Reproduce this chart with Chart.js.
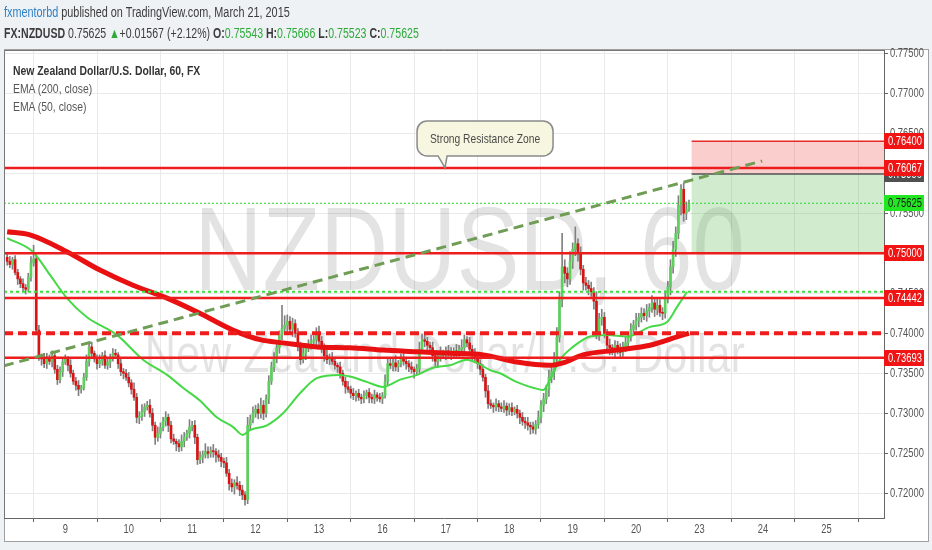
<!DOCTYPE html>
<html>
<head>
<meta charset="utf-8">
<script src="https://cdn.jsdelivr.net/npm/chart.js@4.4.0/dist/chart.umd.min.js"></script>
<style>
  html, body { margin: 0; padding: 0; background: #eff2f5; }
  #wrap { position: relative; width: 932px; height: 550px; overflow: hidden; font-family: "Liberation Sans", Arial, sans-serif; }
  #frame { position: absolute; left: 4px; top: 49px; width: 923px; height: 491px; background: #fff; border: 1px solid #a0a0a0; }
  #c { position: absolute; left: 0; top: 0; }
  .txt { position: absolute; white-space: nowrap; transform-origin: 0 50%; }
  .hd { left: 4px; font-size: 14px; color: #3c3c3c; }
  .g { color: #2eaa3a; }
  .lg { left: 13px; font-size: 13.5px; color: #555; transform: scaleX(0.77); }
</style>
</head>
<body>
<div id="wrap">
  <div id="frame"></div>
  <canvas id="c" width="932" height="550"></canvas>
  <div class="txt hd" style="top:4px;transform:scaleX(0.775)"><span style="color:#2f80c4">fxmentorbd</span> published on TradingView.com, March 21, 2015</div>
  <div class="txt hd" style="top:25px;transform:scaleX(0.755)"><b>FX:NZDUSD</b> 0.75625 <span class="g">&#9650;</span>+0.01567 (+2.12%) <b>O:</b><span class="g">0.75543</span> <b>H:</b><span class="g">0.75666</span> <b>L:</b><span class="g">0.75523</span> <b>C:</b><span class="g">0.75625</span></div>
  <div class="txt lg" style="top:63px;font-weight:bold;color:#333">New Zealand Dollar/U.S. Dollar, 60, FX</div>
  <div class="txt lg" style="top:81px">EMA (200, close)</div>
  <div class="txt lg" style="top:99px">EMA (50, close)</div>
</div>
<script>
// hourly closes, bar index 2..260 (day 9 starts at index 24)
const firstBar = 2;
const firstOpen = 0.7495;
const closes = [
  0.7490,0.7486,0.7492,0.7476,0.7468,0.7462,0.7457,0.7455,0.7470,0.7488,
  0.7493,0.7404,0.7370,0.7368,0.7362,0.7370,0.7365,0.7372,0.7355,0.7342,
  0.7352,0.7364,0.7368,0.7360,0.7350,0.7340,0.7335,0.7330,0.7332,0.7345,
  0.7365,0.7383,0.7375,0.7368,0.7362,0.7366,0.7372,0.7360,0.7364,0.7370,
  0.7375,0.7373,0.7362,0.7352,0.7350,0.7345,0.7338,0.7330,0.7320,0.7295,
  0.7296,0.7302,0.7308,0.7310,0.7300,0.7285,0.7270,0.7275,0.7282,0.7290,
  0.7295,0.7285,0.7268,0.7265,0.7262,0.7258,0.7265,0.7270,0.7275,0.7283,
  0.7285,0.7270,0.7242,0.7245,0.7248,0.7252,0.7250,0.7253,0.7252,0.7248,
  0.7245,0.7240,0.7238,0.7225,0.7212,0.7208,0.7213,0.7210,0.7204,0.7198,
  0.7192,0.7285,0.7292,0.7300,0.7305,0.7300,0.7310,0.7300,0.7318,0.7340,
  0.7358,0.7368,0.7382,0.7398,0.7406,0.7410,0.7415,0.7405,0.7412,0.7400,
  0.7385,0.7367,0.7375,0.7382,0.7386,0.7390,0.7392,0.7400,0.7390,0.7382,
  0.7372,0.7367,0.7370,0.7365,0.7360,0.7358,0.7350,0.7340,0.7333,0.7330,
  0.7325,0.7322,0.7325,0.7320,0.7318,0.7322,0.7326,0.7320,0.7318,0.7323,
  0.7320,0.7318,0.7322,0.7340,0.7362,0.7360,0.7363,0.7358,0.7362,0.7368,
  0.7365,0.7362,0.7358,0.7355,0.7352,0.7356,0.7380,0.7392,0.7390,0.7385,
  0.7382,0.7372,0.7365,0.7370,0.7375,0.7373,0.7378,0.7376,0.7374,0.7378,
  0.7376,0.7380,0.7382,0.7392,0.7388,0.7380,0.7375,0.7368,0.7362,0.7355,
  0.7345,0.7328,0.7312,0.7310,0.7308,0.7312,0.7308,0.7306,0.7309,0.7304,
  0.7307,0.7302,0.7305,0.7300,0.7295,0.7290,0.7288,0.7285,0.7283,0.7280,
  0.7286,0.7295,0.7310,0.7318,0.7330,0.7345,0.7352,0.7368,0.7395,0.7442,
  0.7483,0.7475,0.7468,0.7490,0.7505,0.7512,0.7500,0.7480,0.7463,0.7460,
  0.7456,0.7452,0.7440,0.7400,0.7418,0.7420,0.7400,0.7385,0.7382,0.7378,
  0.7385,0.7380,0.7376,0.7383,0.7388,0.7395,0.7405,0.7410,0.7416,0.7420,
  0.7425,0.7422,0.7428,0.7432,0.7438,0.7430,0.7435,0.7426,0.7425,0.7445,
  0.7458,0.7483,0.7505,0.7525,0.7560,0.7580,0.7550,0.75543,0.75625
];
// wick lengths in pips above / below the body
const wickUp = [
  4,6,3,5,4,3,6,4,5,8,17,5,6,4,7,5,3,6,4,5,
  6,4,5,3,7,4,5,6,3,5,8,4,6,3,5,7,4,6,5,4,
  6,5,3,7,4,5,6,4,8,5,6,9,4,5,7,6,4,8,6,5,
  7,4,5,6,3,5,8,6,4,9,5,6,4,7,5,10,6,5,8,4,
  6,5,4,7,5,6,4,8,5,6,4,10,6,8,5,7,9,6,5,7,
  6,8,7,5,29,12,8,6,7,5,6,4,7,5,6,8,5,7,9,6,
  5,7,4,6,5,3,6,4,5,7,4,6,3,5,4,6,3,5,4,6,
  3,5,4,8,6,7,5,9,4,6,8,5,4,6,3,5,9,7,6,5,
  4,7,5,6,8,4,5,7,6,4,8,5,10,6,4,7,5,6,4,5,
  6,4,7,5,3,6,4,5,7,4,5,6,3,5,4,6,5,7,4,6,
  5,8,6,7,5,9,6,8,12,10,42,9,7,12,8,21,6,8,5,7,
  6,8,5,12,7,10,6,5,8,4,6,5,7,6,8,5,7,6,9,5,
  7,6,8,5,9,6,10,7,6,8,7,9,10,8,12,6,8,10,4
];
const wickDn = [
  5,4,6,3,7,5,4,6,3,5,4,6,4,8,5,6,4,7,5,6,
  4,6,3,7,5,4,6,8,5,3,4,6,5,4,7,5,6,4,5,7,
  5,4,6,5,7,4,5,6,4,7,8,5,6,4,5,7,9,5,6,4,
  6,8,5,4,9,6,5,7,4,6,5,8,6,5,7,4,6,5,7,9,
  5,7,6,4,8,6,9,5,7,6,7,5,6,4,5,7,6,8,5,6,
  4,6,5,7,6,5,8,6,9,5,7,6,4,8,5,6,4,7,5,6,
  7,5,6,4,5,7,6,5,8,4,6,5,7,4,6,5,4,7,5,6,
  5,4,6,3,5,4,7,5,6,4,5,7,6,5,8,4,6,5,7,6,
  5,7,6,8,5,4,6,5,7,4,6,5,4,7,5,6,8,5,6,7,
  5,8,6,4,7,5,6,4,5,7,6,5,4,6,8,5,7,6,9,5,
  6,5,7,8,6,9,7,10,8,6,9,12,10,7,9,8,10,7,9,6,
  8,6,10,7,9,8,6,7,9,5,8,6,7,5,6,8,5,7,6,8,
  6,5,7,8,6,9,7,5,8,6,7,10,8,9,7,12,10,8,2
];

// EMA lines: [bar index, price]
const ema200 = [
  [2,0.7527],[10.6,0.7523],[24.6,0.7502],[37.1,0.7479],[49.6,0.7460],[62.5,0.7444],
  [74.9,0.7425],[87.4,0.7404],[97.7,0.7392],[106.4,0.7388],[119.2,0.7383],[131.7,0.7382],
  [144.2,0.7379],[157.1,0.7377],[169.6,0.7375],[182.1,0.7373],[194.9,0.7364],[207.4,0.7360],
  [212.3,0.7363],[219.9,0.7373],[232.8,0.7379],[245.3,0.7385],[257.8,0.7398],[260,0.7400]
];
const ema50 = [
  [2,0.7519],[11.7,0.7502],[18.2,0.7473],[24.6,0.7444],[32.2,0.7420],[43.5,0.7398],
  [53.4,0.7367],[62.5,0.7348],[68.5,0.7332],[74.9,0.7316],[81.3,0.7295],[87.4,0.7283],
  [91.2,0.7273],[93.9,0.7279],[100.3,0.7285],[106.4,0.7300],[112.8,0.7325],[119.2,0.7344],
  [128,0.7348],[131.7,0.7346],[138.3,0.7339],[144.2,0.7333],[150.7,0.7342],[157.1,0.7348],
  [163.2,0.7357],[169.6,0.7360],[176,0.7367],[179.8,0.7363],[184.7,0.7354],[188.5,0.7350],
  [194.9,0.7339],[201,0.7332],[204.8,0.7329],[207.4,0.7342],[211.2,0.7367],[216.1,0.7383],
  [222.6,0.7396],[229,0.7398],[236.6,0.7396],[245.3,0.7408],[251.7,0.7414],[255.5,0.7433],
  [259.3,0.7452]
];

const dayTicks = [24,48,72,96,120,144,168,192,216,240,264,288,312];
const dayLabels = ['9','10','11','12','13','16','17','18','19','20','23','24','25'];
const priceTicks = [0.72,0.725,0.73,0.735,0.74,0.745,0.75,0.755,0.76,0.765,0.77,0.775];

const xMin = 0.8, xMax = 333.8;
const yMin = 0.71691, yMax = 0.77541;

const resistLines = [0.76067, 0.75, 0.74442, 0.73693];
const dashedLevel = 0.74;
const lastPrice = 0.75625;
const ema50Level = 0.7452;
const trendLine = [[0.76, 0.73594], [287.7, 0.76154]];

// short position tool
const posStart = 261, posStop = 0.764, posEntry = 0.7599, posTarget = 0.75;
const redTags = [0.764, 0.76067, 0.75, 0.74442, 0.73693];

const callout = { text: 'Strong Resistance Zone', x: 167.7, y: 0.76067 };
const symbolText = 'NZDUSD, 60';
const nameText = 'New Zealand Dollar/U.S. Dollar';

const pip = 0.0001;
const wicks = [], bodies = [], bodyColors = [];
closes.forEach((c, i) => {
  const o = i === 0 ? firstOpen : closes[i - 1];
  const x = firstBar + i;
  const hi = Math.max(o, c) + wickUp[i] * pip;
  const lo = Math.min(o, c) - wickDn[i] * pip;
  wicks.push({ x: x, y: [lo, hi] });
  bodies.push({ x: x, y: [Math.min(o, c), Math.max(o, c)] });
  bodyColors.push(c >= o ? '#5ccf5c' : '#d81313');
});

const hline = (v) => [{ x: xMin, y: v }, { x: xMax, y: v }];
const lineDs = (data, color, width, dash, order) => ({
  type: 'line', data: data, borderColor: color, borderWidth: width, borderDash: dash || [],
  pointRadius: 0, fill: false, order: order, tension: 0
});

const datasets = [
  { type: 'bar', data: wicks, backgroundColor: '#808080', barThickness: 1, grouped: false, order: 20 },
  { type: 'bar', data: bodies, backgroundColor: bodyColors, barThickness: 2, grouped: false, minBarLength: 1, order: 19 },
  Object.assign(lineDs(ema50.map(p => ({ x: p[0], y: p[1] })), '#46d946', 2, null, 12), { cubicInterpolationMode: 'monotone' }),
  Object.assign(lineDs(ema200.map(p => ({ x: p[0], y: p[1] })), '#e81010', 5, null, 11), { cubicInterpolationMode: 'monotone' }),
];
resistLines.forEach(v => datasets.push(lineDs(hline(v), '#ee1c1c', 2.5, null, 6)));
datasets.push(lineDs(hline(dashedLevel), '#ee1c1c', 4, [9, 5], 6));
datasets.push(lineDs(hline(lastPrice), '#2bd62b', 1, [2, 2], 5));
datasets.push(lineDs(hline(ema50Level), '#3ddc3d', 2, [3, 3], 5));
datasets.push(lineDs(trendLine.map(p => ({ x: p[0], y: p[1] })), '#6f9d55', 3, [10, 6], 4));

const face = '"Liberation Sans", Arial, sans-serif';

// condensed text (the original uses a narrow face)
function narrowText(ctx, text, x, y, font, color, align, sx) {
  ctx.save();
  ctx.translate(x, y);
  ctx.scale(sx || 0.78, 1);
  ctx.font = font + ' ' + face;
  ctx.fillStyle = color;
  ctx.textAlign = align;
  ctx.textBaseline = 'middle';
  ctx.fillText(text, 0, 0);
  ctx.restore();
}

const overlay = {
  id: 'overlay',
  beforeDatasetsDraw(chart) {
    const { ctx, chartArea: a, scales: { x, y } } = chart;
    ctx.save();
    ctx.beginPath();
    ctx.rect(a.left, a.top, a.right - a.left, a.bottom - a.top);
    ctx.clip();
    // watermark
    ctx.save();
    ctx.fillStyle = 'rgba(0,0,0,0.11)';
    ctx.textAlign = 'right';
    ctx.textBaseline = 'alphabetic';
    ctx.translate(745, 290);
    ctx.scale(0.8, 1);
    ctx.font = '118px ' + face;
    ctx.fillText(symbolText, 0, 0);
    ctx.font = '54px ' + face;
    ctx.fillText(nameText, 0, 82);
    ctx.restore();
    // position zones
    const px = x.getPixelForValue(posStart);
    const yS = y.getPixelForValue(posStop), yE = y.getPixelForValue(posEntry), yT = y.getPixelForValue(posTarget);
    ctx.fillStyle = 'rgba(240,80,80,0.28)';
    ctx.fillRect(px, yS, a.right - px, yE - yS);
    ctx.fillStyle = 'rgba(100,190,90,0.3)';
    ctx.fillRect(px, yE, a.right - px, yT - yE);
    ctx.lineWidth = 1.5;
    ctx.strokeStyle = '#e52a2a';
    ctx.beginPath(); ctx.moveTo(px, yS); ctx.lineTo(a.right, yS); ctx.stroke();
    ctx.strokeStyle = '#555';
    ctx.beginPath(); ctx.moveTo(px, yE); ctx.lineTo(a.right, yE); ctx.stroke();
    ctx.restore();
  },
  afterDraw(chart) {
    const { ctx, chartArea: a, scales: { x, y } } = chart;
    ctx.save();
    // plot border left / top
    ctx.strokeStyle = '#777';
    ctx.lineWidth = 1;
    ctx.beginPath();
    ctx.moveTo(a.left + 0.5, a.bottom); ctx.lineTo(a.left + 0.5, a.top + 0.5); ctx.lineTo(a.right, a.top + 0.5);
    ctx.stroke();

    // axis labels from the scales' own ticks
    y.ticks.forEach(t => {
      narrowText(ctx, t.value.toFixed(5), a.right + 6, Math.round(y.getPixelForValue(t.value)) + 1, '12px', '#555', 'left');
    });
    x.ticks.forEach(t => {
      narrowText(ctx, dayLabels[dayTicks.indexOf(t.value)], x.getPixelForValue(t.value), a.bottom + 12, '12px', '#555', 'center');
    });

    // callout
    const ax = x.getPixelForValue(callout.x), ay = y.getPixelForValue(callout.y);
    const bx = ax - 28, by = ay - 47, bw = 136, bh = 35, r = 10;
    ctx.beginPath();
    ctx.moveTo(bx + r, by);
    ctx.lineTo(bx + bw - r, by); ctx.arcTo(bx + bw, by, bx + bw, by + r, r);
    ctx.lineTo(bx + bw, by + bh - r); ctx.arcTo(bx + bw, by + bh, bx + bw - r, by + bh, r);
    ctx.lineTo(ax + 2, by + bh); ctx.lineTo(ax, ay); ctx.lineTo(ax - 7, by + bh);
    ctx.lineTo(bx + r, by + bh); ctx.arcTo(bx, by + bh, bx, by + bh - r, r);
    ctx.lineTo(bx, by + r); ctx.arcTo(bx, by, bx + r, by, r);
    ctx.closePath();
    ctx.fillStyle = '#f7f7e1';
    ctx.fill();
    ctx.strokeStyle = '#8a8a8a';
    ctx.lineWidth = 1.5;
    ctx.stroke();
    narrowText(ctx, callout.text, bx + bw / 2, by + bh / 2 + 1, '13.5px', '#4a4a4a', 'center', 0.76);

    // price tags on the axis
    const tag = (v, bg, fg) => {
      const yp = Math.round(y.getPixelForValue(v));
      ctx.fillStyle = bg;
      ctx.fillRect(a.right, yp - 8, 40, 16);
      narrowText(ctx, v.toFixed(5), a.right + 4, yp + 1, '12px', fg, 'left');
    };
    tag(posEntry, '#505050', '#fff');
    redTags.forEach(v => tag(v, '#f01414', '#fff'));
    tag(lastPrice, '#22e622', '#1a1a1a');
    ctx.restore();
  }
};

new Chart(document.getElementById('c'), {
  data: { datasets: datasets },
  options: {
    responsive: false,
    animation: false,
    events: [],
    layout: { padding: { left: 4, top: 50, right: 0, bottom: 9 } },
    plugins: { legend: { display: false }, tooltip: { enabled: false } },
    scales: {
      x: {
        type: 'linear', min: xMin, max: xMax, offset: false,
        afterBuildTicks: (s) => { s.ticks = dayTicks.map(v => ({ value: v })); },
        afterFit: (s) => { s.height = 23; },
        ticks: { display: false },
        grid: { color: '#e9e9e9', tickColor: '#666', tickLength: 4 },
        border: { color: '#666' }
      },
      y: {
        type: 'linear', position: 'right', min: yMin, max: yMax,
        afterBuildTicks: (s) => { s.ticks = priceTicks.map(v => ({ value: v })); },
        afterFit: (s) => { s.width = 48; },
        ticks: { display: false },
        grid: { color: '#e9e9e9', tickColor: '#666', tickLength: 4 },
        border: { color: '#666' }
      }
    }
  },
  plugins: [overlay]
});
</script>
</body>
</html>
